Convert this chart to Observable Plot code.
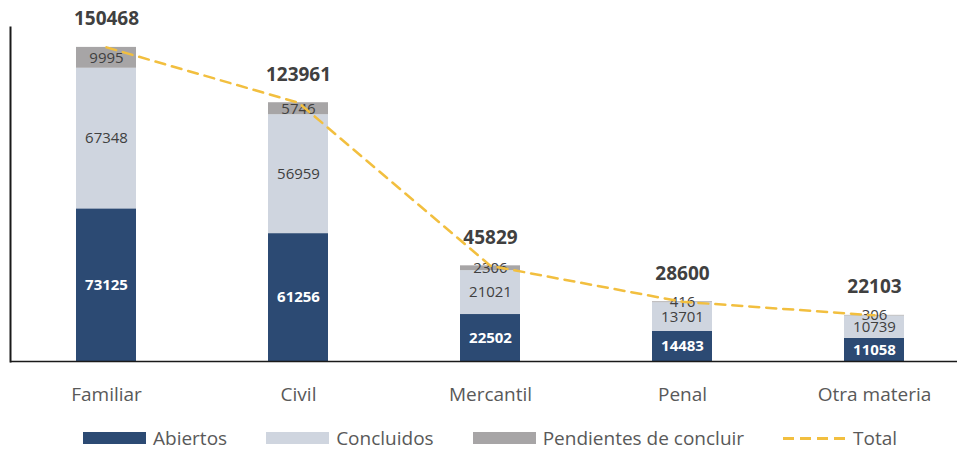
<!DOCTYPE html>
<html>
<head>
<meta charset="utf-8">
<script src="https://cdn.jsdelivr.net/npm/d3@7"></script>
<script src="https://cdn.jsdelivr.net/npm/@observablehq/plot@0.6"></script>
<style>
  html, body { margin: 0; padding: 0; background: #fff; }
  body { width: 957px; font-family: "Open Sans", sans-serif; }
  #chart svg { display: block; }
  #legend { display: flex; align-items: center; height: 24px; margin-top: 11px; padding-left: 83px; color: #595959; font-size: 19px; line-height: 24px; white-space: nowrap; }
  .item { display: flex; align-items: center; margin-right: 39px; flex-shrink: 0; }
  .sw { width: 63px; height: 12px; margin-right: 7px; flex-shrink: 0; }
  .dash { width: 62px; height: 3px; margin-right: 8px; flex-shrink: 0;
          background: repeating-linear-gradient(to right, #f2bf3f 0 11px, transparent 11px 17px); }
</style>
</head>
<body>
<div id="chart"></div>
<div id="legend"></div>
<script>
const categorias = ["Familiar", "Civil", "Mercantil", "Penal", "Otra materia"];
const abiertos = [73125, 61256, 22502, 14483, 11058];
const concluidos = [67348, 56959, 21021, 13701, 10739];
const pendientes = [9995, 5746, 2306, 416, 306];
const totales = [150468, 123961, 45829, 28600, 22103];
const series = ["Abiertos", "Concluidos", "Pendientes de concluir"];
const colores = ["#2c4a73", "#cfd5df", "#a7a5a6"];
const colorTotal = "#f2bf3f";

const valores = [abiertos, concluidos, pendientes];
const rows = [];
categorias.forEach((c, i) => {
  let base = 0;
  series.forEach((s, j) => {
    const v = valores[j][i];
    rows.push({cat: c, serie: s, value: v, mid: base + v / 2});
    base += v;
  });
});
const tot = categorias.map((c, i) => ({cat: c, total: totales[i]}));
const rowsOsc = rows.filter(d => d.serie === "Abiertos");
const rowsClaro = rows.filter(d => d.serie !== "Abiertos");

const chart = Plot.plot({
  width: 957,
  height: 415,
  marginLeft: 10,
  marginRight: 0,
  marginTop: 27,
  marginBottom: 54,
  style: {fontFamily: "Open Sans, sans-serif", background: "#fff"},
  x: {domain: categorias, range: [10, 970], padding: 0, label: null},
  y: {domain: [0, 160000], axis: null},
  color: {domain: series, range: colores},
  marks: [
    Plot.barY(rows, {x: "cat", y: "value", fill: "serie", order: series, insetLeft: 66, insetRight: 66}),
    Plot.text(rowsOsc, {x: "cat", y: "mid", text: d => String(d.value), fontSize: 15, fill: "#ffffff", fontWeight: "bold"}),
    Plot.text(rowsClaro, {x: "cat", y: "mid", text: d => String(d.value), fontSize: 15, fill: "#404040"}),
    Plot.line(tot, {x: "cat", y: "total", stroke: colorTotal, strokeWidth: 2.5, strokeDasharray: "10,7"}),
    Plot.text(tot, {x: "cat", y: "total", text: d => String(d.total), dy: -28, fontSize: 19, fontWeight: "bold", fill: "#404040"}),
    Plot.ruleY([0], {stroke: "#1a1a1a", strokeWidth: 1.5}),
    Plot.frame({anchor: "left", stroke: "#1a1a1a", strokeWidth: 2}),
    Plot.axisX({tickSize: 0, tickPadding: 26, fontSize: 19, fill: "#595959", label: null})
  ]
});
document.getElementById("chart").appendChild(chart);

const legend = document.getElementById("legend");
series.forEach((s, j) => {
  const it = document.createElement("div");
  it.className = "item";
  const sw = document.createElement("div");
  sw.className = "sw";
  sw.style.background = colores[j];
  const t = document.createElement("span");
  t.textContent = s;
  it.appendChild(sw); it.appendChild(t);
  legend.appendChild(it);
});
const it = document.createElement("div");
it.className = "item";
const dsh = document.createElement("div");
dsh.className = "dash";
const t = document.createElement("span");
t.textContent = "Total";
it.appendChild(dsh); it.appendChild(t);
legend.appendChild(it);
</script>
</body>
</html>
